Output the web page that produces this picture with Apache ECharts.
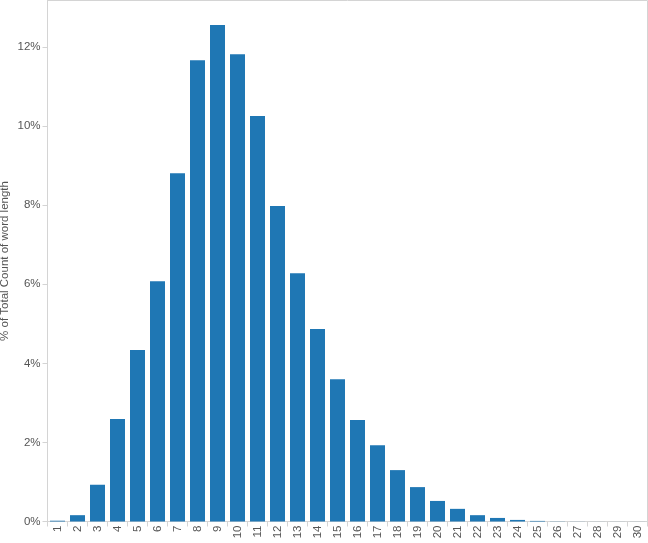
<!DOCTYPE html>
<html><head><meta charset="utf-8">
<script src="https://cdn.jsdelivr.net/npm/echarts@6/dist/echarts.min.js"></script>
<style>html,body{margin:0;padding:0;background:#fff;}#c{width:648px;height:543px;}</style>
</head><body><div id="c"></div>
<script>
var categories = ['1','2','3','4','5','6','7','8','9','10','11','12','13','14','15','16','17','18','19','20','21','22','23','24','25','26','27','28','29','30'];
var percentValues = [0.02,0.16,0.93,2.59,4.34,6.08,8.81,11.67,12.56,11.82,10.26,7.98,6.28,4.87,3.60,2.57,1.93,1.30,0.87,0.52,0.32,0.16,0.09,0.04,0.015,0.004,0.002,0.001,0.001,0.001];
var yTicks = [0,2,4,6,8,10,12];

var chart = echarts.init(document.getElementById('c'), null, {renderer:'canvas'});
chart.setOption({
  animation:false,
  textStyle:{fontFamily:'Liberation Sans, Arial, sans-serif'},
  grid:{left:47.5,right:0.5,top:0.5,bottom:21.5,show:true,borderColor:'#d4d4d4',borderWidth:1,containLabel:false,outerBoundsMode:'none'},
  xAxis:{type:'category',data:categories,
    axisLine:{lineStyle:{color:'#d4d4d4'}},
    axisTick:{show:true,alignWithLabel:false,length:5,lineStyle:{color:'#d4d4d4'}},
    axisLabel:{rotate:90,color:'#555',fontSize:11.5,margin:4,interval:0}},
  yAxis:{type:'value',min:0,max:13.18,interval:2,
    name:'% of Total Count of word length',nameLocation:'middle',nameGap:37,nameRotate:90,nameMoveOverlap:false,
    nameTextStyle:{color:'#555',fontSize:11.5},
    axisLine:{show:true,lineStyle:{color:'#d4d4d4'}},
    axisTick:{show:true,length:5,lineStyle:{color:'#d4d4d4'}},
    splitLine:{show:false},
    axisLabel:{color:'#555',fontSize:11.5,margin:7,showMaxLabel:false,
      formatter:function(v){return yTicks.indexOf(v)>=0 ? v+'%' : '';}}},
  series:[{type:'bar',data:percentValues,barCategoryGap:'25%',itemStyle:{color:'#1f77b4'}}]
});
</script></body></html>
